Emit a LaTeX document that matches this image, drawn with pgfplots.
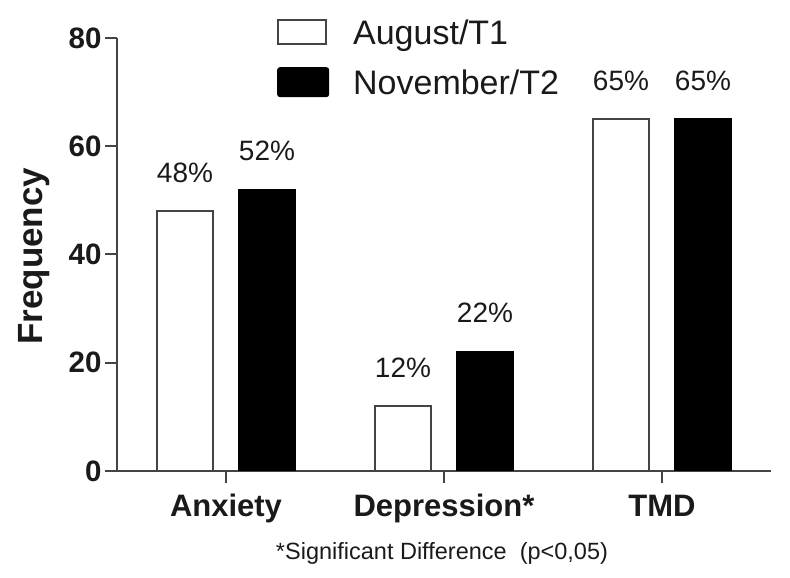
\documentclass[border=0pt]{standalone}
\usepackage{pgfplots}
\pgfplotsset{compat=1.18}
\usepackage{fontspec}
\setmainfont{Liberation Sans}
\definecolor{axgray}{HTML}{444444}
\definecolor{txt}{HTML}{1A1A1A}
\begin{document}
\begin{tikzpicture}
\useasboundingbox (-117pt,-107pt) rectangle (673pt,471pt);
\begin{axis}[
  scale only axis, width=654pt, height=433pt,
  at={(0pt,0pt)}, anchor=south west,
  xmin=-0.5, xmax=2.5, ymin=0, ymax=80,
  axis x line*=bottom, axis y line*=left,
  axis line style={axgray, line width=2pt, -},
  ytick={0,20,40,60,80},
  xtick={0,1,2}, xticklabels={Anxiety,Depression*,TMD},
  tick align=outside,
  major tick length=12pt,
  tick style={axgray, line width=2pt},
  /pgf/number format/assume math mode=true,
  yticklabel style={font=\bfseries\fontsize{29.5}{34}\selectfont, text=txt},
  xticklabel style={font=\bfseries\fontsize{31}{36}\selectfont, text=txt, text height=23pt, text depth=7pt, yshift=-7pt},
  ylabel={Frequency},
  ylabel style={font=\bfseries\fontsize{35}{40}\selectfont, text=txt, at={(axis description cs:-0.127,0.496)}, anchor=center},
  ybar, bar width=0.26,
  nodes near coords={\pgfmathprintnumber{\pgfplotspointmeta}\%},
  every node near coord/.append style={font=\fontsize{28}{34}\selectfont, text=txt, anchor=base, yshift=29pt},
  legend style={at={(axis description cs:0.2446,1.0440)}, anchor=north west, draw=none, fill=none, inner sep=0pt, row sep=22pt, column sep=24pt, font=\fontsize{34}{40}\selectfont, text=txt, nodes={inner sep=0pt, text height=24pt, text depth=0pt}},
  legend cell align=left,
]
\addplot[fill=white, draw=axgray, line width=2pt, bar shift=-0.188,
  legend image code/.code={\draw[fill=white, draw=axgray, line width=2pt] (0pt,-12pt) rectangle (48pt,12pt);}]
  coordinates {(0,48) (1,12) (2,65)};
\addlegendentry{August/T1}
\addplot[fill=black, draw=black, line width=2pt, bar shift=0.188,
  legend image code/.code={\draw[fill=black, draw=black, line width=2pt, rounded corners=2pt] (0pt,-14pt) rectangle (50pt,14pt);}]
  coordinates {(0,52) (1,22) (2,65)};
\addlegendentry{November/T2}
\end{axis}
\node[anchor=base, font=\fontsize{23.5}{28}\selectfont, text=txt] at (325pt,-89pt) {*Significant Difference\ \ (p<0,05)};
\end{tikzpicture}
\end{document}
